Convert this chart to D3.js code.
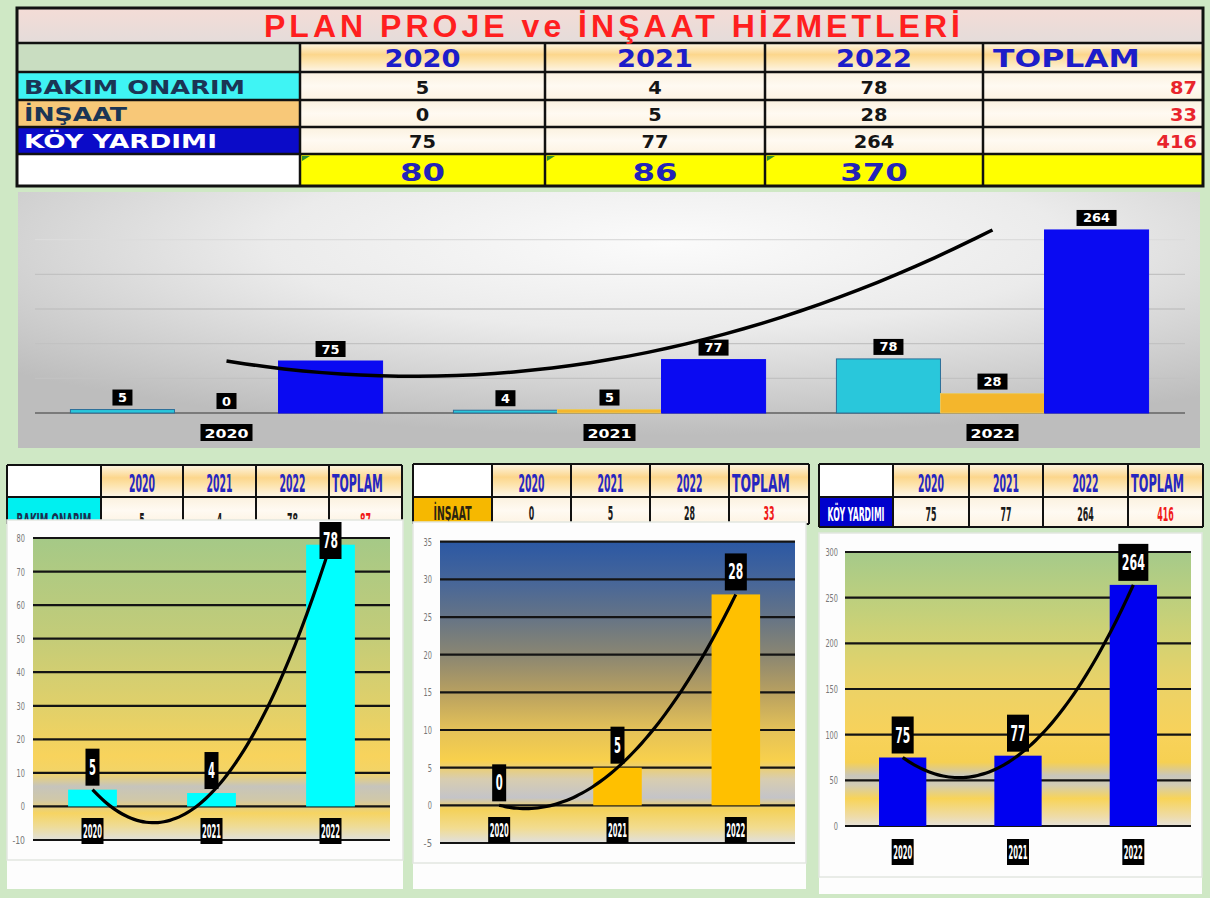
<!DOCTYPE html>
<html><head><meta charset="utf-8">
<script src="https://cdn.jsdelivr.net/npm/d3@7"></script>
<style>body{margin:0;background:#cfe8c5;} svg{display:block}</style>
</head><body><svg id="c" width="1210" height="898"></svg>
<script>
// ---------------- DATA ----------------
const title = "PLAN PROJE ve İNŞAAT HİZMETLERİ";
const years = ["2020", "2021", "2022"];
const seriesNames = ["BAKIM ONARIM", "İNŞAAT", "KÖY YARDIMI"];
const bakimValues = [5, 4, 78];
const insaatValues = [0, 5, 28];
const koyValues = [75, 77, 264];
const yearTotals = [80, 86, 370];
const seriesTotals = [87, 33, 416];
const totalLabel = "TOPLAM";
const mainYTicks = [50, 100, 150, 200, 250];
const bakimTicks = [-10, 0, 10, 20, 30, 40, 50, 60, 70, 80];
const insaatTicks = [-5, 0, 5, 10, 15, 20, 25, 30, 35];
const koyTicks = [0, 50, 100, 150, 200, 250, 300];

const seriesValues = [bakimValues, insaatValues, koyValues];

// ---------------- SETUP ----------------
const svg = d3.select("#c");
const defs = svg.append("defs");
function linGrad(id, stops, vertical = true) {
  const g = defs.append("linearGradient").attr("id", id)
    .attr("x1", 0).attr("y1", 0).attr("x2", vertical ? 0 : 1).attr("y2", vertical ? 1 : 0);
  stops.forEach(([o, c]) => g.append("stop").attr("offset", o).attr("stop-color", c));
}
linGrad("titleGrad", [[0, "#f4dcd6"], [1, "#e4dcda"]]);
linGrad("headGrad", [[0, "#fdf6e6"], [0.4, "#fcd68c"], [0.6, "#fde2a8"], [1, "#fdf6ea"]]);
linGrad("cellGrad", [[0, "#fbf1df"], [0.5, "#fffaf2"], [1, "#fdf3e2"]]);
linGrad("g1", [[0, "#a5c987"], [0.333, "#c4cc78"], [0.556, "#e0d06a"], [0.722, "#f8d35c"], [0.778, "#f2d468"], [0.822, "#c6c4bc"], [0.867, "#d0c8a8"], [0.911, "#f6d462"], [0.956, "#eedc98"], [1, "#e0e0dc"]]);
linGrad("g2", [[0, "#2b58a4"], [0.125, "#45659a"], [0.25, "#657486"], [0.375, "#8a8672"], [0.5, "#b8a060"], [0.625, "#e4c258"], [0.725, "#f8d04c"], [0.7875, "#d8cdb0"], [0.85, "#c4c4c8"], [0.8875, "#f4d158"], [0.95, "#f2dc90"], [1, "#e0e0e0"]]);
linGrad("g3", [[0, "#a5ca8a"], [0.167, "#bccf7e"], [0.333, "#d4d272"], [0.5, "#ecd266"], [0.667, "#f8d25a"], [0.767, "#f6d052"], [0.817, "#c8c6bc"], [0.85, "#d2ccb4"], [0.9, "#f8d458"], [0.967, "#eedcaa"], [1, "#e6e2da"]]);
const rg = defs.append("radialGradient").attr("id", "mainGrad").attr("cx", 0.55).attr("cy", 0.2).attr("r", 0.75);
[[0, "#fbfbfb"], [0.45, "#ebebeb"], [1, "#bdbdbd"]].forEach(([o, c]) => rg.append("stop").attr("offset", o).attr("stop-color", c));

// text helper: squeezes/stretches glyphs horizontally to a target width via transform
function txt(g, x, y, s, o) {
  const t = g.append("text").attr("x", 0).attr("y", 0).text(s)
    .attr("font-family", o.family || "DejaVu Sans, sans-serif")
    .attr("font-size", o.size).attr("font-weight", o.weight || "bold")
    .attr("fill", o.fill || "#000").attr("text-anchor", o.anchor || "middle");
  if (o.stroke) t.attr("stroke", o.stroke).attr("stroke-width", o.sw || 0.5);
  let sx = 1;
  if (o.width) {
    const nat = t.node().getComputedTextLength();
    if (nat > 0) sx = o.width / nat;
  }
  t.attr("transform", `translate(${x},${y}) scale(${sx},1)`);
  return t;
}
// polynomial (order 2) trendline through points at t = 0,1,2
function quadTrend(vals) {
  const [a0, a1, a2] = vals;
  return t => a0 * (t - 1) * (t - 2) / 2 - a1 * t * (t - 2) + a2 * t * (t - 1) / 2;
}

// ---------------- TOP TABLE ----------------
const T = svg.append("g");
const colE = [17, 300, 545, 765, 983, 1203];
const rowE = [8, 43, 72, 100, 127, 154, 186];
const labelFills = ["#3ff4f4", "#f8c878", "#0b0bc8"];
const labelText = ["#1b3555", "#1b3555", "#ffffff"];
const labelWidths = [221, 103, 193];

T.append("rect").attr("x", 17).attr("y", 8).attr("width", 1186).attr("height", 35).attr("fill", "url(#titleGrad)");
T.append("rect").attr("x", colE[0]).attr("y", rowE[1]).attr("width", colE[1] - colE[0]).attr("height", rowE[2] - rowE[1]).attr("fill", "#c9ddc1");
for (let c = 1; c < 5; c++) {
  T.append("rect").attr("x", colE[c]).attr("y", rowE[1]).attr("width", colE[c + 1] - colE[c]).attr("height", rowE[2] - rowE[1]).attr("fill", "url(#headGrad)");
}
seriesNames.forEach((s, r) => {
  T.append("rect").attr("x", colE[0]).attr("y", rowE[r + 2]).attr("width", colE[1] - colE[0]).attr("height", rowE[r + 3] - rowE[r + 2]).attr("fill", labelFills[r]);
  for (let c = 1; c < 5; c++)
    T.append("rect").attr("x", colE[c]).attr("y", rowE[r + 2]).attr("width", colE[c + 1] - colE[c]).attr("height", rowE[r + 3] - rowE[r + 2]).attr("fill", "url(#cellGrad)");
});
T.append("rect").attr("x", colE[0]).attr("y", rowE[5]).attr("width", colE[1] - colE[0]).attr("height", rowE[6] - rowE[5]).attr("fill", "#ffffff");
T.append("rect").attr("x", colE[1]).attr("y", rowE[5]).attr("width", colE[5] - colE[1]).attr("height", rowE[6] - rowE[5]).attr("fill", "#ffff00");
[1, 2, 3].forEach(c => T.append("path").attr("d", `M${colE[c] + 2},${rowE[5] + 2} l8,0 l-8,5 z`).attr("fill", "#2f8f2f"));
rowE.slice(1, 6).forEach(y => T.append("line").attr("x1", 17).attr("x2", 1203).attr("y1", y).attr("y2", y).attr("stroke", "#111").attr("stroke-width", 2.5));
colE.slice(1, 5).forEach(x => T.append("line").attr("x1", x).attr("x2", x).attr("y1", rowE[1]).attr("y2", rowE[6]).attr("stroke", "#111").attr("stroke-width", 2.5));
T.append("rect").attr("x", 17).attr("y", 8).attr("width", 1186).attr("height", 178).attr("fill", "none").attr("stroke", "#111").attr("stroke-width", 3);

// title with letter spacing
const tt = T.append("text").attr("x", 612).attr("y", 37).text(title)
  .attr("font-family", "Liberation Sans, Arial, sans-serif").attr("font-size", 32).attr("font-weight", "bold")
  .attr("fill", "#ff1f1f").attr("text-anchor", "middle");
{
  const nat = tt.node().getComputedTextLength();
  const sp = Math.max(0, (700 - nat) / (title.length));
  tt.attr("letter-spacing", sp).attr("x", 612 + sp / 2);
}
years.forEach((y, i) => txt(T, (colE[i + 1] + colE[i + 2]) / 2, 67, y, { size: 24, fill: "#1d1dc9", width: 76 }));
txt(T, 993, 67, totalLabel, { size: 24, fill: "#1d1dc9", anchor: "start", width: 147 });
seriesNames.forEach((s, r) => {
  const yb = rowE[r + 3] - 6;
  txt(T, 24, yb, s, { size: 19, fill: labelText[r], anchor: "start", width: labelWidths[r] });
  seriesValues[r].forEach((v, i) => txt(T, (colE[i + 1] + colE[i + 2]) / 2, yb, v, { size: 18, fill: "#151515", width: String(v).length * 13.5 }));
  txt(T, 1197, yb, seriesTotals[r], { size: 18, fill: "#e8242c", anchor: "end", width: String(seriesTotals[r]).length * 13.5 });
});
yearTotals.forEach((v, i) => txt(T, (colE[i + 1] + colE[i + 2]) / 2, 181, v, { size: 25, fill: "#2323b8", width: String(v).length * 22.5 }));

// ---------------- MAIN CHART ----------------
const M = svg.append("g");
M.append("rect").attr("x", 18).attr("y", 192).attr("width", 1182).attr("height", 256).attr("fill", "url(#mainGrad)");
const x0 = d3.scaleBand().domain(years).range([35, 1184]).paddingInner(0.185).paddingOuter(0.0925);
const x1 = d3.scaleBand().domain(seriesNames).range([0, x0.bandwidth()]);
const yM = d3.scaleLinear().domain([0, 300]).range([413, 205]);
M.selectAll(".mg").data(mainYTicks).join("line").attr("x1", 35).attr("x2", 1185)
  .attr("y1", d => yM(d)).attr("y2", d => yM(d)).attr("stroke", d => d === 250 ? "#dcdcdc" : "#c2c2c2").attr("stroke-width", 1.3);
M.append("line").attr("x1", 35).attr("x2", 1185).attr("y1", yM(0)).attr("y2", yM(0)).attr("stroke", "#7a7a7a").attr("stroke-width", 2);
const mainColors = ["#29c7db", "#f4b62c", "#0a0af2"];
const mainStroke = ["#2d6f99", "#e8c860", "#0a0af2"];
const barData = [];
years.forEach((yr, i) => seriesNames.forEach((s, k) => barData.push({ yr, s, k, v: seriesValues[k][i] })));
M.selectAll(".mb").data(barData).join("rect")
  .attr("x", d => x0(d.yr) + x1(d.s)).attr("width", x1.bandwidth())
  .attr("y", d => yM(d.v)).attr("height", d => yM(0) - yM(d.v))
  .attr("fill", d => mainColors[d.k]).attr("stroke", d => d.v > 0 ? mainStroke[d.k] : "none").attr("stroke-width", 1);
const xT = d3.scaleLinear().domain([0, 2]).range([x0(years[0]) + x0.bandwidth() / 2, x0(years[2]) + x0.bandwidth() / 2]);
const trendM = quadTrend(koyValues);
M.append("path").attr("d", d3.line().x(t => xT(t)).y(t => yM(trendM(t))).curve(d3.curveBasis)(d3.range(0, 2.0001, 0.05)))
  .attr("fill", "none").attr("stroke", "#000").attr("stroke-width", 3.5);
barData.forEach(d => {
  const cx = x0(d.yr) + x1(d.s) + x1.bandwidth() / 2;
  const w = String(d.v).length * 10 + 10, h = 16;
  const yb = yM(d.v) - 4;
  M.append("rect").attr("x", cx - w / 2).attr("y", yb - h).attr("width", w).attr("height", h).attr("fill", "#000");
  txt(M, cx, yb - 3.5, d.v, { size: 12.5, fill: "#fff", width: String(d.v).length * 9 });
});
years.forEach(yr => {
  const cx = x0(yr) + x0.bandwidth() / 2;
  M.append("rect").attr("x", cx - 26).attr("y", 424).attr("width", 52).attr("height", 17).attr("fill", "#000");
  txt(M, cx, 437.5, yr, { size: 13, fill: "#fff", width: 44 });
});

// ---------------- SMALL CHARTS ----------------
const smallCfg = [
  { cols: [7, 101, 183, 256, 329, 402], yH: [465, 497], yD: [497, 524], dataBase: 527, labelFill: "#00f0f0", labelColor: "#1b2f50", labelW: 75,
    values: bakimValues, total: seriesTotals[0], name: seriesNames[0],
    panel: [7, 520, 396, 340], strip: [7, 860, 396, 29], plot: [33, 390], yr: [840, 538], domain: [-10, 80], ticks: bakimTicks,
    grad: "url(#g1)", bar: "#00ffff", tickX: 25, catTop: 818 },
  { cols: [413, 492, 571, 650, 729, 809], yH: [464, 497], yD: [497, 524], dataBase: 520, labelFill: "#f6b800", labelColor: "#2a2410", labelW: 38,
    values: insaatValues, total: seriesTotals[1], name: seriesNames[1],
    panel: [413, 522, 393, 341], strip: [413, 863, 393, 26], plot: [440, 795], yr: [843, 541.7], domain: [-5, 35], ticks: insaatTicks,
    grad: "url(#g2)", bar: "#ffc000", tickX: 432, catTop: 817 },
  { cols: [819, 893, 969, 1043, 1128, 1203], yH: [464, 497], yD: [497, 527], dataBase: 521, labelFill: "#0000cc", labelColor: "#ffffff", labelW: 57,
    values: koyValues, total: seriesTotals[2], name: seriesNames[2],
    panel: [819, 533, 383, 344], strip: [819, 877, 383, 17], plot: [845, 1191], yr: [826, 552], domain: [0, 300], ticks: koyTicks,
    grad: "url(#g3)", bar: "#0000f0", tickX: 838, catTop: 839 }
];

smallCfg.forEach(cf => {
  const g = svg.append("g");
  const c = cf.cols;
  g.append("rect").attr("x", c[0]).attr("y", cf.yH[0]).attr("width", c[1] - c[0]).attr("height", cf.yH[1] - cf.yH[0]).attr("fill", "#fff");
  for (let i = 1; i < 5; i++) {
    g.append("rect").attr("x", c[i]).attr("y", cf.yH[0]).attr("width", c[i + 1] - c[i]).attr("height", cf.yH[1] - cf.yH[0]).attr("fill", "url(#headGrad)");
    g.append("rect").attr("x", c[i]).attr("y", cf.yD[0]).attr("width", c[i + 1] - c[i]).attr("height", cf.yD[1] - cf.yD[0]).attr("fill", "url(#cellGrad)");
  }
  g.append("rect").attr("x", c[0]).attr("y", cf.yD[0]).attr("width", c[1] - c[0]).attr("height", cf.yD[1] - cf.yD[0]).attr("fill", cf.labelFill);
  c.forEach(x => g.append("line").attr("x1", x).attr("x2", x).attr("y1", cf.yH[0]).attr("y2", cf.yD[1]).attr("stroke", "#111").attr("stroke-width", 2));
  [cf.yH[0], cf.yH[1], cf.yD[1]].forEach(y => g.append("line").attr("x1", c[0]).attr("x2", c[5]).attr("y1", y).attr("y2", y).attr("stroke", "#111").attr("stroke-width", 2));
  years.forEach((yr, i) => txt(g, (c[i + 1] + c[i + 2]) / 2, cf.yH[1] - 5, yr, { size: 24, fill: "#2626c0", width: 26 }));
  txt(g, c[4] + 3, cf.yH[1] - 5, totalLabel, { size: 24, fill: "#2626c0", anchor: "start", width: c[5] - c[4] - 22 });
  txt(g, (c[0] + c[1]) / 2, cf.dataBase, cf.name, { size: 20, fill: cf.labelColor, width: cf.labelW });
  cf.values.forEach((v, i) => txt(g, (c[i + 1] + c[i + 2]) / 2, cf.dataBase, v, { size: 20, fill: "#1a1a1a", width: String(v).length * 5.5 }));
  txt(g, (c[4] + c[5]) / 2, cf.dataBase, cf.total, { size: 20, fill: "#f01818", width: String(cf.total).length * 5.5 });

  const [px, py, pw, ph] = cf.panel;
  g.append("rect").attr("x", cf.strip[0]).attr("y", cf.strip[1]).attr("width", cf.strip[2]).attr("height", cf.strip[3]).attr("fill", "#fdfdfd");
  g.append("rect").attr("x", px).attr("y", py).attr("width", pw).attr("height", ph).attr("fill", "#fdfdfd").attr("stroke", "#e2e6e0").attr("stroke-width", 1.5);

  const y = d3.scaleLinear().domain(cf.domain).range(cf.yr);
  const x = d3.scaleBand().domain(years).range(cf.plot).paddingInner(0.59).paddingOuter(0.295);
  g.append("rect").attr("x", cf.plot[0]).attr("y", y(cf.domain[1])).attr("width", cf.plot[1] - cf.plot[0])
    .attr("height", y(cf.domain[0]) - y(cf.domain[1])).attr("fill", cf.grad);
  g.selectAll(".gl").data(cf.ticks).join("line").attr("x1", cf.plot[0]).attr("x2", cf.plot[1])
    .attr("y1", d => y(d)).attr("y2", d => y(d)).attr("stroke", "#141414").attr("stroke-width", 2.2);
  cf.ticks.forEach(t => txt(g, cf.tickX, y(t) + 4, t, { size: 11, weight: "normal", fill: "#777", anchor: "end", width: String(t).length * 4.2 }));
  g.selectAll(".sb").data(cf.values).join("rect")
    .attr("x", (d, i) => x(years[i])).attr("width", x.bandwidth())
    .attr("y", d => y(Math.max(0, d))).attr("height", d => Math.abs(y(0) - y(d)))
    .attr("fill", cf.bar);
  const tr = quadTrend(cf.values);
  const xt = d3.scaleLinear().domain([0, 2]).range([x(years[0]) + x.bandwidth() / 2, x(years[2]) + x.bandwidth() / 2]);
  g.append("path").attr("d", d3.line().x(t => xt(t)).y(t => y(tr(t))).curve(d3.curveBasis)(d3.range(0, 2.0001, 0.05)))
    .attr("fill", "none").attr("stroke", "#000").attr("stroke-width", 3.2);
  cf.values.forEach((v, i) => {
    const cx = x(years[i]) + x.bandwidth() / 2;
    const n = String(v).length;
    const w = n * 8 + 6, h = 37;
    let top = y(v) - 4 - h;
    top = Math.max(top, py + 2);
    g.append("rect").attr("x", cx - w / 2).attr("y", top).attr("width", w).attr("height", h).attr("fill", "#000");
    txt(g, cx, top + h / 2 + 7.5, v, { size: 21, fill: "#fff", width: n * 8 - 1 });
  });
  years.forEach(yr => {
    const cx = x(yr) + x.bandwidth() / 2;
    g.append("rect").attr("x", cx - 11).attr("y", cf.catTop).attr("width", 22).attr("height", 26).attr("fill", "#000");
    txt(g, cx, cf.catTop + 20, yr, { size: 19, fill: "#fff", width: 19 });
  });
});
</script></body></html>
